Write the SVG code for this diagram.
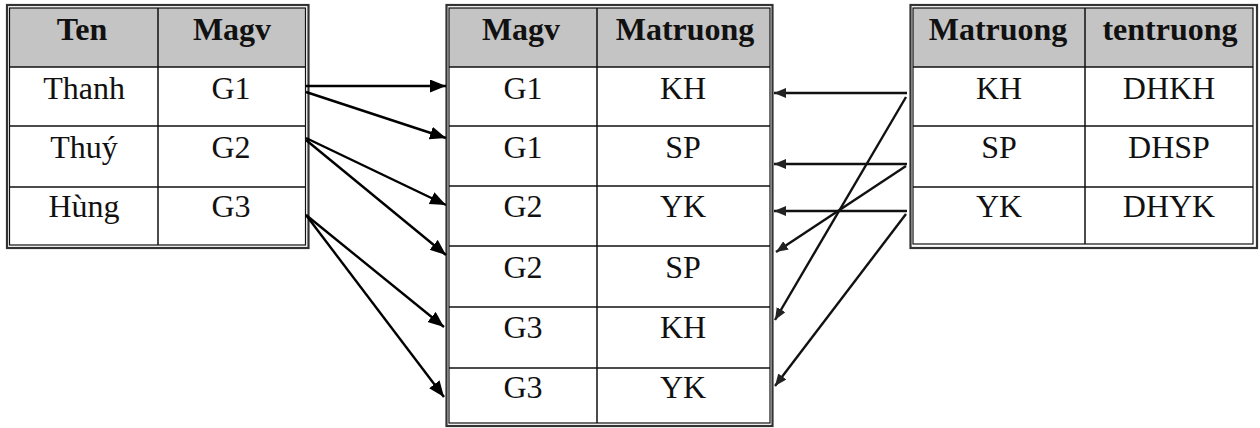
<svg xmlns="http://www.w3.org/2000/svg" width="1260" height="428" viewBox="0 0 1260 428">
<style>
.outer{fill:none;stroke:#333;stroke-width:2.2}
.inner{fill:none;stroke:#111;stroke-width:1.2}
.hdr{fill:#c4c4c4}
.grid{stroke:#111;stroke-width:1.5}
.h{font-family:"Liberation Serif",serif;font-weight:bold;font-size:32px;text-anchor:middle;fill:#111}
.b{font-family:"Liberation Serif",serif;font-size:32px;text-anchor:middle;fill:#111}
.c{fill:none;stroke:#000;stroke-width:2.4}
.c2{fill:none;stroke:#111;stroke-width:2.4}
</style>
<defs>
<marker id="ah" markerUnits="userSpaceOnUse" markerWidth="18" markerHeight="14" refX="16" refY="6.5" orient="auto">
<path d="M0,0 L16,6.5 L0,13 z" fill="#000"/>
</marker>
<marker id="ah2" markerUnits="userSpaceOnUse" markerWidth="14" markerHeight="11" refX="12" refY="5" orient="auto">
<path d="M0,0 L12,5 L0,10 z" fill="#222"/>
</marker>
</defs>
<rect width="1260" height="428" fill="#fff"/>

<g id="giaovien">
<rect class="hdr" x="9.5" y="8" width="296" height="59"/>
<rect class="outer" x="7" y="5" width="301.5" height="243"/>
<rect class="inner" x="9.5" y="8" width="296" height="237"/>
<line class="grid" x1="9.5" y1="67" x2="305.5" y2="67"/>
<line class="grid" x1="9.5" y1="126" x2="305.5" y2="126"/>
<line class="grid" x1="9.5" y1="187" x2="305.5" y2="187"/>
<line class="grid" x1="158" y1="8" x2="158" y2="245"/>
<text class="h" x="82" y="40">Ten</text>
<text class="h" x="232" y="40">Magv</text>
<text class="b" x="84" y="99">Thanh</text>
<text class="b" x="231" y="99">G1</text>
<text class="b" x="84" y="158">Thuý</text>
<text class="b" x="231" y="158">G2</text>
<text class="b" x="84" y="217">Hùng</text>
<text class="b" x="231" y="217">G3</text>
</g>

<g id="phancong">
<rect class="hdr" x="449" y="8" width="321" height="59"/>
<rect class="outer" x="446.5" y="5" width="326" height="421"/>
<rect class="inner" x="449" y="8" width="321" height="415"/>
<line class="grid" x1="449" y1="67" x2="770" y2="67"/>
<line class="grid" x1="449" y1="126" x2="770" y2="126"/>
<line class="grid" x1="449" y1="186" x2="770" y2="186"/>
<line class="grid" x1="449" y1="246" x2="770" y2="246"/>
<line class="grid" x1="449" y1="307" x2="770" y2="307"/>
<line class="grid" x1="449" y1="368" x2="770" y2="368"/>
<line class="grid" x1="597" y1="8" x2="597" y2="423"/>
<text class="h" x="521" y="40">Magv</text>
<text class="h" x="685" y="40">Matruong</text>
<text class="b" x="523" y="99">G1</text>
<text class="b" x="683" y="99">KH</text>
<text class="b" x="523" y="158">G1</text>
<text class="b" x="683" y="158">SP</text>
<text class="b" x="523" y="217">G2</text>
<text class="b" x="683" y="217">YK</text>
<text class="b" x="523" y="278">G2</text>
<text class="b" x="683" y="278">SP</text>
<text class="b" x="523" y="338">G3</text>
<text class="b" x="683" y="338">KH</text>
<text class="b" x="523" y="398">G3</text>
<text class="b" x="683" y="398">YK</text>
</g>

<g id="truong">
<rect class="hdr" x="913" y="8" width="340" height="59"/>
<rect class="outer" x="910.5" y="5" width="346.5" height="243"/>
<rect class="inner" x="913" y="8" width="340" height="236"/>
<line class="grid" x1="913" y1="67" x2="1253" y2="67"/>
<line class="grid" x1="913" y1="126" x2="1253" y2="126"/>
<line class="grid" x1="913" y1="187" x2="1253" y2="187"/>
<line class="grid" x1="1085" y1="8" x2="1085" y2="244"/>
<text class="h" x="998" y="40">Matruong</text>
<text class="h" x="1170" y="40">tentruong</text>
<text class="b" x="999" y="99">KH</text>
<text class="b" x="1169" y="99">DHKH</text>
<text class="b" x="999" y="158">SP</text>
<text class="b" x="1169" y="158">DHSP</text>
<text class="b" x="999" y="217">YK</text>
<text class="b" x="1169" y="217">DHYK</text>
</g>

<g id="connectors">
<line class="c" x1="306" y1="86" x2="446" y2="86" marker-end="url(#ah)"/>
<line class="c" x1="306" y1="92" x2="446" y2="138" marker-end="url(#ah)"/>
<line class="c" x1="306" y1="138" x2="446" y2="205" marker-end="url(#ah)"/>
<line class="c" x1="306" y1="140" x2="446" y2="255" marker-end="url(#ah)"/>
<line class="c" x1="306" y1="215" x2="444" y2="327" marker-end="url(#ah)"/>
<line class="c" x1="306" y1="215" x2="444" y2="397" marker-end="url(#ah)"/>
<line class="c2" x1="907" y1="93" x2="774" y2="93" marker-end="url(#ah2)"/>
<line class="c2" x1="907" y1="164" x2="774" y2="164" marker-end="url(#ah2)"/>
<line class="c2" x1="907" y1="211" x2="774" y2="211" marker-end="url(#ah2)"/>
<line class="c2" x1="906" y1="97" x2="775" y2="320" marker-end="url(#ah2)"/>
<line class="c2" x1="906" y1="166" x2="776" y2="252" marker-end="url(#ah2)"/>
<line class="c2" x1="906" y1="214" x2="775" y2="386" marker-end="url(#ah2)"/>
</g>
</svg>
